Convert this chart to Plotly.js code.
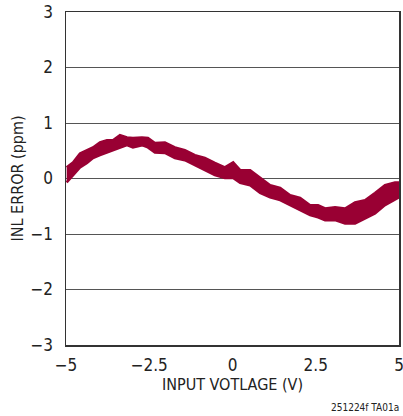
<!DOCTYPE html>
<html>
<head>
<meta charset="utf-8">
<script src="https://cdn.plot.ly/plotly-3.0.1.min.js"></script>
<style>html,body{margin:0;padding:0;background:#fff;}#chart{width:403px;height:416px;}</style>
</head>
<body>
<div id="chart"></div>
<script>
// Input voltage (V)
const inputVoltage = [-4.98,-4.79,-4.58,-4.37,-4.19,-3.98,-3.77,-3.59,-3.38,-3.17,-2.99,-2.72,-2.54,-2.33,-2.03,-1.73,-1.43,-1.13,-0.83,-0.53,-0.23,0.02,0.23,0.53,0.83,1.13,1.43,1.73,2.03,2.33,2.57,2.78,3.08,3.38,3.68,3.98,4.28,4.58,4.88,5.0];
// Upper edge of the INL error band (ppm)
const inlUpper = [0.20,0.29,0.45,0.51,0.56,0.65,0.69,0.69,0.78,0.74,0.73,0.74,0.73,0.64,0.65,0.56,0.51,0.42,0.37,0.28,0.20,0.29,0.15,0.15,0.01,-0.12,-0.17,-0.30,-0.35,-0.48,-0.48,-0.54,-0.52,-0.54,-0.43,-0.39,-0.26,-0.12,-0.07,-0.07];
// Lower edge of the INL error band (ppm)
const inlLower = [-0.07,0.06,0.20,0.28,0.37,0.42,0.47,0.51,0.56,0.60,0.56,0.60,0.56,0.47,0.46,0.37,0.33,0.24,0.15,0.06,0.01,0.01,-0.08,-0.12,-0.26,-0.34,-0.39,-0.48,-0.57,-0.66,-0.70,-0.75,-0.75,-0.81,-0.81,-0.72,-0.63,-0.48,-0.39,-0.34];
const xTicks = [-5,-2.5,0,2.5,5];
const yTicks = [-3,-2,-1,0,1,2,3];

const red = '#990033';
const font = "'DejaVu Sans Condensed', 'Liberation Sans Narrow', 'Liberation Sans', Arial, sans-serif";

const traces = [
  {x: inputVoltage, y: inlLower, mode: 'lines', line: {color: red, width: 2.5}, hoverinfo: 'skip', showlegend: false},
  {x: inputVoltage, y: inlUpper, mode: 'lines', line: {color: red, width: 2.5}, fill: 'tonexty', fillcolor: red, showlegend: false}
];

const axisCommon = {
  showline: true, mirror: true, linecolor: '#333', linewidth: 1.5,
  showgrid: true, gridcolor: '#555', gridwidth: 1, zeroline: false,
  ticks: '', ticklabeloverflow: 'allow', tickfont: {family: font, size: 17, color: '#222'}
};

const layout = {
  width: 403, height: 416,
  margin: {l: 66, r: 4, t: 12, b: 71},
  paper_bgcolor: '#fff', plot_bgcolor: '#fff',
  font: {family: font, color: '#222'},
  xaxis: Object.assign({}, axisCommon, {
    range: [-5, 5], tickvals: xTicks, ticktext: xTicks.map(v => String(v).replace('-', '\u2212')),
    showgrid: false, ticklabelstandoff: 4,
    title: {text: 'INPUT VOTLAGE (V)', font: {family: font, size: 16, color: '#222'}, standoff: 4}
  }),
  yaxis: Object.assign({}, axisCommon, {
    range: [-3, 3], tickvals: yTicks, ticktext: yTicks.map(v => String(v).replace('-', '\u2212')),
    ticklabelstandoff: 8,
    title: {text: 'INL ERROR (ppm)', font: {family: font, size: 16, color: '#222'}, standoff: 3}
  }),
  annotations: [{
    text: '251224f TA01a', xref: 'paper', yref: 'paper', x: 1.005, y: -0.189, xanchor: 'right', yanchor: 'middle',
    showarrow: false, font: {family: font, size: 10, color: '#222'}
  }]
};

Plotly.newPlot('chart', traces, layout, {displayModeBar: false, staticPlot: true});
</script>
</body>
</html>
